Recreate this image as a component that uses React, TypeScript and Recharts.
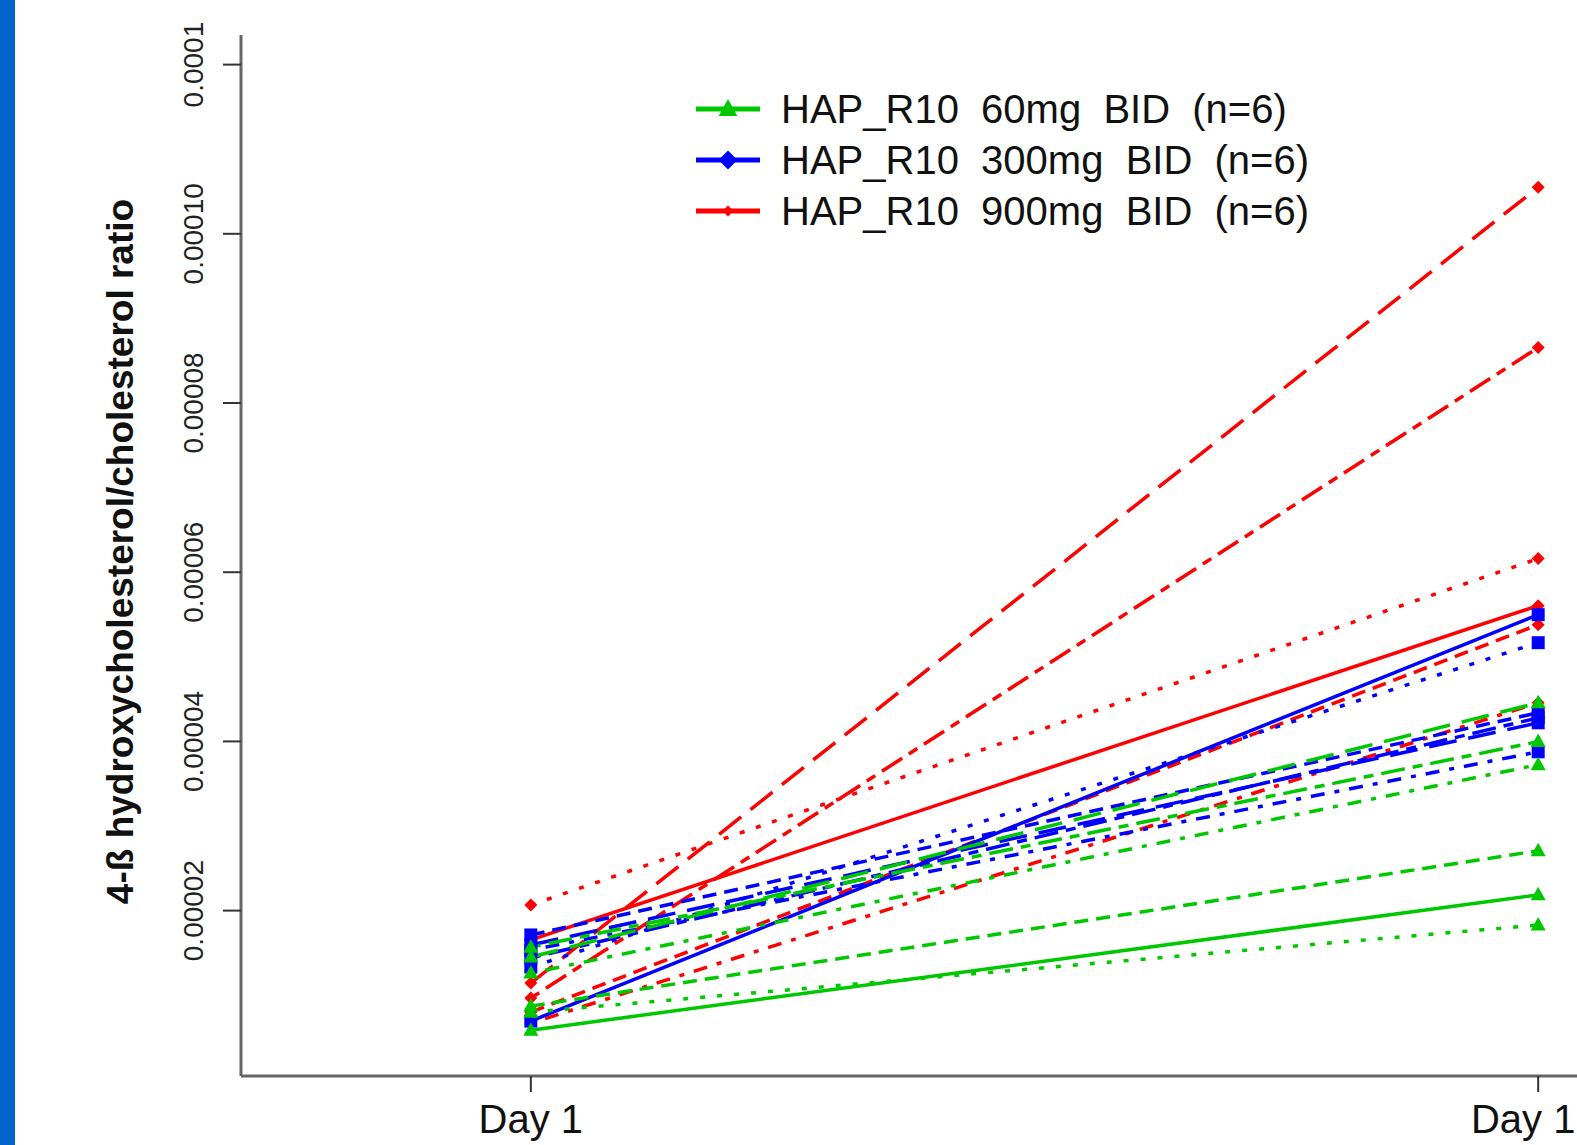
import React from "react";
import { LineChart, Line, XAxis, YAxis, Legend, Label } from "recharts";

// x positions: 0 = Day 1 visit, 1 = last visit (label cut off at the right edge)
const dayTicks = [0, 1];
const dayLabels = ["Day 1", "Day 1"];

const yTicks = [2e-5, 4e-5, 6e-5, 8e-5, 10e-5, 12e-5];
const yTickLabels = ["0.00002", "0.00004", "0.00006", "0.00008", "0.00010", "0.0001"];

// one line style per subject, same order in every dose group
const subjectLty = ["solid", "dashed", "dotted", "dotdash", "longdash", "twodash"];

const groupNames = [
  "HAP_R10  60mg  BID  (n=6)",
  "HAP_R10  300mg  BID  (n=6)",
  "HAP_R10  900mg  BID  (n=6)",
];
const groupKeys = ["g60", "g300", "g900"];
const groupColors = ["#00c800", "#0000ff", "#ff0000"];
const groupShapes = ["triangle", "square", "diamond"];

// ratio values per subject
const dose60Day1 = [0.587e-5, 0.871e-5, 0.8e-5, 1.262e-5, 1.451e-5, 1.568e-5];
const dose60Last = [2.186e-5, 2.707e-5, 1.83e-5, 3.725e-5, 4.457e-5, 3.998e-5];
const dose300Day1 = [0.694e-5, 1.712e-5, 1.333e-5, 1.534e-5, 1.593e-5, 1.44e-5];
const dose300Last = [5.498e-5, 4.339e-5, 5.167e-5, 3.877e-5, 4.22e-5, 4.279e-5];
const dose900Day1 = [1.653e-5, 0.8e-5, 2.066e-5, 0.67e-5, 1.143e-5, 0.966e-5];
const dose900Last = [5.605e-5, 5.38e-5, 6.161e-5, 4.457e-5, 10.55e-5, 8.656e-5];

const day1ByGroup = [dose60Day1, dose300Day1, dose900Day1];
const lastByGroup = [dose60Last, dose300Last, dose900Last];

const dashes: Record<string, string | undefined> = {
  solid: undefined,
  dashed: "14 8",
  dotted: "5 12",
  dotdash: "5 10 14 10",
  longdash: "28 12",
  twodash: "10 8 24 8",
};

const rows = dayTicks.map((d, di) => {
  const row: Record<string, number> = { day: d };
  groupKeys.forEach((gk, gi) => {
    const src = di === 0 ? day1ByGroup[gi] : lastByGroup[gi];
    src.forEach((v, si) => {
      row[`${gk}_${si}`] = v;
    });
  });
  return row;
});

const FONT = "'Liberation Sans', Arial, sans-serif";

function Marker({ cx, cy, shape, color, scale = 1 }: { cx: number; cy: number; shape: string; color: string; scale?: number }) {
  if (shape === "triangle") {
    const w = 7.5 * scale;
    return <polygon points={`${cx},${cy - 8 * scale} ${cx - w},${cy + 5.5 * scale} ${cx + w},${cy + 5.5 * scale}`} fill={color} />;
  }
  if (shape === "square") {
    const h = 6.5 * scale;
    return <rect x={cx - h} y={cy - h} width={2 * h} height={2 * h} fill={color} />;
  }
  const h = 6.5 * scale;
  return <polygon points={`${cx},${cy - h} ${cx + h},${cy} ${cx},${cy + h} ${cx - h},${cy}`} fill={color} />;
}

function LegendBox() {
  const legendShapes = ["triangle", "diamond", "diamond"];
  const legendScale = [1.25, 1.45, 0.85];
  return (
    <svg width={640} height={160} style={{ display: "block" }}>
      {groupNames.map((name, i) => {
        const cy = 29 + 51 * i;
        return (
          <g key={name}>
            <line x1={6} x2={70} y1={cy} y2={cy} stroke={groupColors[i]} strokeWidth={5} />
            <Marker cx={38} cy={cy} shape={legendShapes[i]} color={groupColors[i]} scale={legendScale[i]} />
            <text x={91} y={cy + 14} fontSize={40} fontFamily={FONT} fill="#111" style={{ whiteSpace: "pre" }}>
              {name}
            </text>
          </g>
        );
      })}
    </svg>
  );
}

// the last label sits against the right edge, as in the source picture
const XTick = (p: any) => (
  <text x={p.x} y={p.y} dx={p.index === 1 ? -15 : 0} textAnchor="middle" fontSize={40} fontFamily={FONT} fill="#111">
    {dayLabels[p.index]}
  </text>
);

const YTick = (p: any) => (
  <text
    x={p.x}
    y={p.y}
    transform={`rotate(-90, ${p.x}, ${p.y})`}
    textAnchor="middle"
    fontSize={28}
    fontFamily={FONT}
    fill="#222"
  >
    {yTickLabels[yTicks.indexOf(p.payload.value)] ?? ""}
  </text>
);

const YTitle = (props: any) => {
  const vb = props.viewBox || { x: 0, y: 35, width: 241, height: 1041 };
  const x = vb.x + 133;
  const y = vb.y + vb.height / 2 - 4;
  return (
    <text x={x} y={y} transform={`rotate(-90, ${x}, ${y})`} textAnchor="middle" fontSize={37} fontWeight="bold" fontFamily={FONT} fill="#111">
      4-ß hydroxycholesterol/cholesterol ratio
    </text>
  );
};

export default function App() {
  return (
    <div style={{ position: "fixed", left: 0, top: 0, width: 1577, height: 1145, overflow: "hidden", background: "#fff" }}>
      <div style={{ position: "absolute", left: 0, top: 0, width: 15, height: 1145, background: "#0066cc", zIndex: 2 }} />
      <div style={{ position: "absolute", left: 0, top: 0 }}>
        <LineChart width={1840} height={1146} data={rows} margin={{ top: 35, right: 12, bottom: 0, left: 0 }}>
          <XAxis
            type="number"
            dataKey="day"
            domain={[-0.2877, 1.2877]}
            ticks={dayTicks}
            allowDataOverflow
            height={70}
            tickSize={16}
            tickMargin={41}
            tick={XTick}
            axisLine={{ stroke: "#666", strokeWidth: 3 }}
            tickLine={{ stroke: "#333", strokeWidth: 2 }}
          />
          <YAxis
            type="number"
            domain={[0.045e-5, 12.35e-5]}
            ticks={yTicks}
            allowDataOverflow
            width={241}
            tickSize={18}
            tickMargin={20}
            tick={YTick}
            axisLine={{ stroke: "#666", strokeWidth: 3 }}
            tickLine={{ stroke: "#333", strokeWidth: 2 }}
          >
            <Label content={YTitle} />
          </YAxis>
          <Legend
            layout="vertical"
            align="center"
            verticalAlign="middle"
            content={() => <LegendBox />}
            wrapperStyle={{ left: 690, top: 80, width: 640, height: 160 }}
          />
          {[2, 1, 0].map((gi) =>
            subjectLty.map((lty, si) => {
              const key = `${groupKeys[gi]}_${si}`;
              return (
                <Line
                  key={key}
                  dataKey={key}
                  type="linear"
                  stroke={groupColors[gi]}
                  strokeWidth={3.5}
                  strokeDasharray={dashes[lty]}
                  isAnimationActive={false}
                  activeDot={false}
                  legendType="none"
                  dot={(p: any) => <Marker key={`${key}-${p.index}`} cx={p.cx} cy={p.cy} shape={groupShapes[gi]} color={groupColors[gi]} />}
                />
              );
            })
          )}
        </LineChart>
      </div>
    </div>
  );
}
